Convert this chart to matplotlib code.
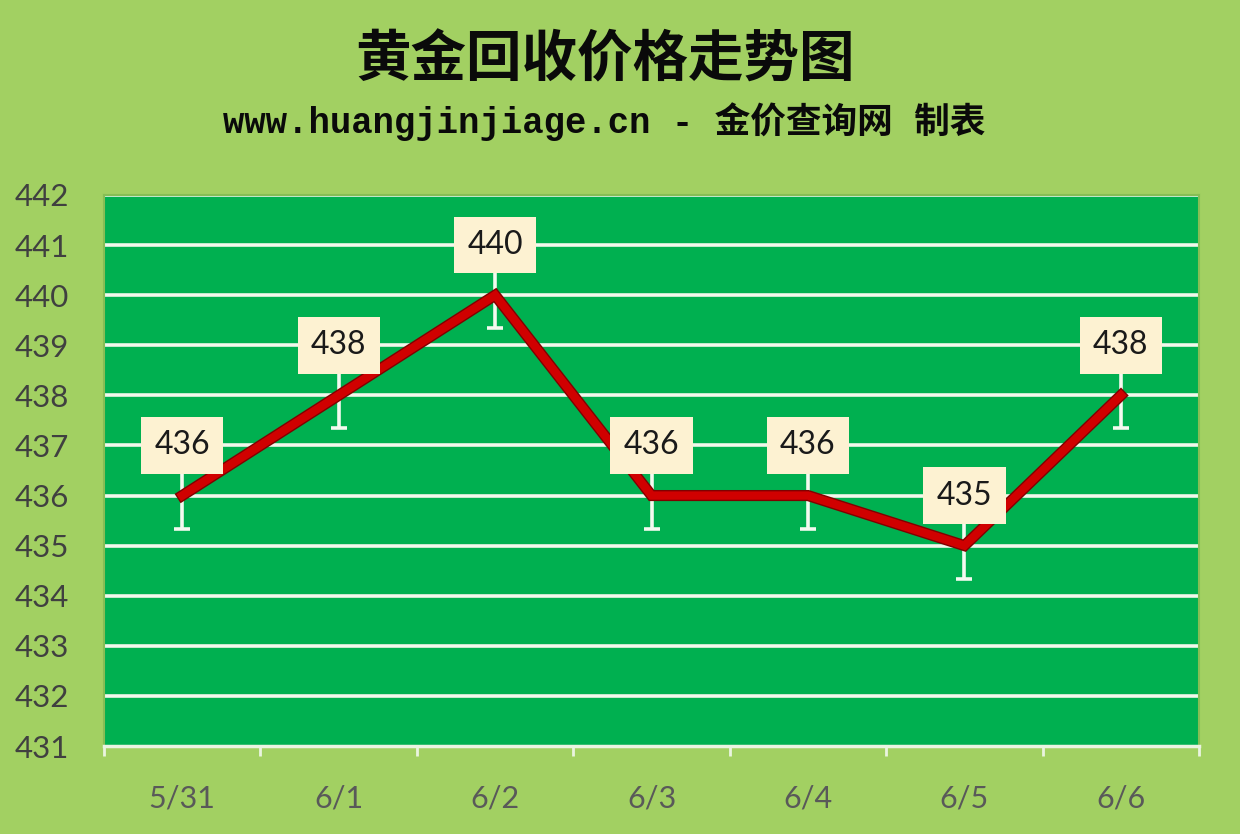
import matplotlib.pyplot as plt
import matplotlib.patheffects as pe

# 数据
dates = ['5/31', '6/1', '6/2', '6/3', '6/4', '6/5', '6/6']
prices = [436, 438, 440, 436, 436, 435, 438]
err = 0.66
y_ticks = list(range(431, 443))

bg = '#A2D062'
plot_bg = '#00B050'

fig = plt.figure(figsize=(12.4, 8.34), dpi=100, facecolor=bg)
ax = fig.add_axes([0.0839, 0.1055, 0.8831, 0.6607])
ax.set_facecolor(plot_bg)

x = list(range(len(dates)))

# 网格线
for v in y_ticks[1:]:
    ax.axhline(v, color='#F2F8EC', lw=2.6, zorder=1)

# 误差线
ax.errorbar(x, prices, yerr=err, fmt='none', ecolor='#F4FAF0',
            elinewidth=2.6, capsize=6, capthick=2.6, zorder=2)

# 折线
ax.plot(x, prices, color='#D00000', lw=6, solid_joinstyle='miter', zorder=3,
        path_effects=[pe.Stroke(linewidth=8, foreground='#800000'), pe.Normal()])

# 数据标签
for xi, p in zip(x, prices):
    ax.text(xi, p + 1, str(p), ha='center', va='center', fontsize=23,
            family='Lato', color='#1a1a1a', zorder=5,
            bbox=dict(boxstyle='square,pad=0.42', fc='#FDF2D2', ec='none'))

ax.set_xlim(-0.5, len(dates) - 0.5)
ax.set_ylim(431, 442)
ax.set_yticks(y_ticks)
ax.set_yticklabels([str(v) for v in y_ticks], family='Lato', fontsize=22.5, color='#404040')
ax.set_xticks(x)
ax.set_xticklabels(dates, family='Lato', fontsize=22, color='#595959')
ax.set_xticks([i - 0.5 for i in range(len(dates) + 1)], minor=True)
ax.tick_params(axis='y', length=0, pad=25)
ax.tick_params(axis='x', which='major', length=0, pad=28)
ax.tick_params(axis='x', which='minor', length=7, width=2, color='#EAF4E0', direction='out')

for s in ['left', 'top', 'right']:
    ax.spines[s].set_color('#86BE55')
    ax.spines[s].set_linewidth(1.5)
ax.spines['bottom'].set_color('#EAF4E0')
ax.spines['bottom'].set_linewidth(2.5)

# 标题
fig.text(0.488, 0.928, '黄金回收价格走势图', ha='center', va='center',
         fontsize=40, fontweight='bold', family=['Noto Sans CJK SC', 'DejaVu Sans'], color='#0a0a0a')
fig.text(0.487, 0.854, 'www.huangjinjiage.cn - 金价查询网 制表', ha='center', va='center',
         fontsize=25.7, fontweight='bold', family=['Liberation Mono', 'Noto Sans CJK SC'], color='#0a0a0a')

fig.savefig('out.png', dpi=100, facecolor=bg)
